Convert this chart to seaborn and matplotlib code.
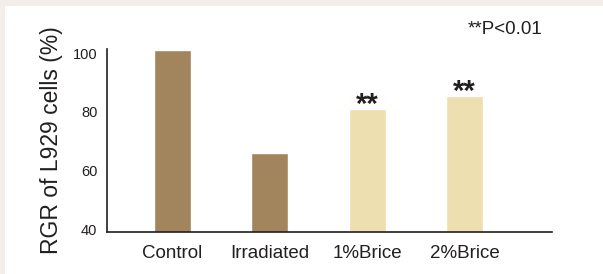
import matplotlib
matplotlib.use("Agg")
import matplotlib.pyplot as plt
import seaborn as sns
import pandas as pd

# data
groups = ["Control", "Irradiated", "1%Brice", "2%Brice"]
rgr = [101.2, 66.1, 81.0, 85.4]
stars = ["", "", "**", "**"]
bar_colors = ["#A2855C", "#A2855C", "#EEDFB0", "#EEDFB0"]

df = pd.DataFrame({"group": groups, "rgr": rgr})

sns.set_style("white")
plt.rcParams['font.family'] = ['Liberation Sans', 'DejaVu Sans']
ink = "#231F20"

fig = plt.figure(figsize=(6.03, 2.74), dpi=100, facecolor="#F3EEEA")
# white inner panel
fig.patches.append(plt.Rectangle((5 / 603, 0), 1, 1 - 6 / 274, transform=fig.transFigure,
                                 facecolor="white", edgecolor="none", zorder=-10))
ax = fig.add_axes([107 / 603, 42 / 274, 445 / 603, 183 / 274])
ax.set_facecolor("none")

sns.barplot(data=df, x="group", y="rgr", hue="group", palette=bar_colors,
            width=0.38, legend=False, saturation=1, ax=ax)

ax.set_xlim(-0.673, 3.9)
ax.set_ylim(39, 101.4)
ax.set_yticks([40, 60, 80, 100])
ax.tick_params(axis="both", length=0, colors=ink)
ax.tick_params(axis="x", labelsize=13.5, pad=9)
ax.tick_params(axis="y", labelsize=10.5, pad=7)

for s in ["top", "right"]:
    ax.spines[s].set_visible(False)
for s in ["left", "bottom"]:
    ax.spines[s].set_color(ink)
    ax.spines[s].set_linewidth(1.2)

ax.set_xlabel("")
ax.set_ylabel("RGR of L929 cells (%)", fontsize=16.5, color=ink, labelpad=7)

# significance marks
for i, (v, s) in enumerate(zip(rgr, stars)):
    if s:
        ax.annotate(s, (i, v), xytext=(0, -7), textcoords="offset points",
                    ha="center", va="bottom", fontsize=21, fontweight="bold", color=ink)

fig.text(505 / 603, 1 - 30 / 274, "**P<0.01", fontsize=13.5, color=ink,
         ha="center", va="center")

fig.savefig("out.png", dpi=100, facecolor=fig.get_facecolor())
